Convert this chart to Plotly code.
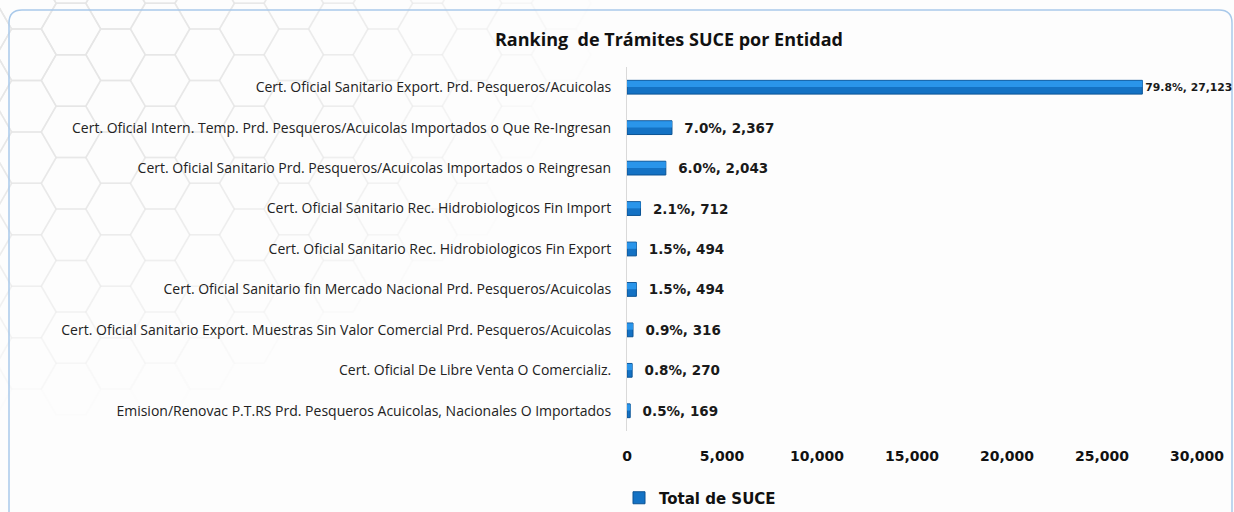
import math
import plotly.graph_objects as go

# ---------------- data ----------------
categories = [
    "Cert. Oficial Sanitario Export. Prd. Pesqueros/Acuicolas",
    "Cert. Oficial Intern. Temp. Prd. Pesqueros/Acuicolas Importados o Que Re-Ingresan",
    "Cert. Oficial Sanitario Prd. Pesqueros/Acuicolas Importados o Reingresan",
    "Cert. Oficial Sanitario Rec. Hidrobiologicos Fin Import",
    "Cert. Oficial Sanitario Rec. Hidrobiologicos Fin Export",
    "Cert. Oficial Sanitario fin Mercado Nacional Prd. Pesqueros/Acuicolas",
    "Cert. Oficial Sanitario Export. Muestras Sin Valor Comercial Prd. Pesqueros/Acuicolas",
    "Cert. Oficial De Libre Venta O Comercializ.",
    "Emision/Renovac P.T.RS Prd. Pesqueros Acuicolas, Nacionales O Importados",
]
values = [27123, 2367, 2043, 712, 494, 494, 316, 270, 169]
percents = [79.8, 7.0, 6.0, 2.1, 1.5, 1.5, 0.9, 0.8, 0.5]
x_ticks = [0, 5000, 10000, 15000, 20000, 25000, 30000]
series_name = "Total de SUCE"
title_text = "Ranking\u00a0 de Trámites SUCE por Entidad"

# ---------------- layout geometry ----------------
W, H = 1234, 512
L, R, T, B = 627, 37, 67, 81
PW, PH = W - L - R, H - T - B


def px(x):
    return (x - L) / PW


def py(y):
    return (H - B - y) / PH


labels = [("" if i == 0 else "  ") + "{:.1f}%, {:,}".format(p, v)
          for i, (p, v) in enumerate(zip(percents, values))]
label_sizes = [10.8] + [13.5] * (len(values) - 1)

fig = go.Figure()
fig.add_trace(go.Bar(
    y=categories, x=values, orientation="h", name=series_name,
    marker=dict(color="#1472c4", line=dict(color="#0b5394", width=1)),
    width=0.34,
    text=labels, textposition="outside", cliponaxis=False,
    constraintext="none",
    textfont=dict(family="DejaVu Sans", size=label_sizes, color="#1a1a1a", weight="bold"),
    hoverinfo="x+y",
))
# lighter upper half (bevel look)
fig.add_trace(go.Bar(
    y=categories, x=values, orientation="h", showlegend=False,
    marker=dict(color="#2a95ea", line=dict(width=0)),
    width=0.155, offset=-0.16, hoverinfo="skip",
))

# ---------------- background hexagons ----------------
shapes = []
s = 29.7
cx0, cy0 = 71, 29
for i in range(-2, 16):
    for j in range(-2, 12):
        cx = cx0 + i * 1.5 * s
        cy = cy0 + j * math.sqrt(3) * s + (i % 2) * math.sqrt(3) / 2 * s
        r = math.sqrt((max(cx, 0) / 540) ** 2 + (max(cy, 0) / 380) ** 2)
        op = max(0.0, min(1.0, 1.1 - r))
        if op <= 0.03:
            continue
        pts = []
        for k in range(6):
            a = math.radians(60 * k)
            pts.append((px(cx + s * math.cos(a)), py(cy + s * math.sin(a))))
        path = "M " + " L ".join("{:.5f},{:.5f}".format(a, b) for a, b in pts) + " Z"
        shapes.append(dict(type="path", path=path, xref="paper", yref="paper",
                           line=dict(color="#e6e6e6", width=1.5), opacity=op,
                           layer="below"))

# rounded blue frame
x1, y1, x2, y2, rr = 9, 10, 1232, 516, 13
frame = (
    f"M {px(x1)},{py(y1 + rr)} "
    f"Q {px(x1)},{py(y1)} {px(x1 + rr)},{py(y1)} "
    f"L {px(x2 - rr)},{py(y1)} "
    f"Q {px(x2)},{py(y1)} {px(x2)},{py(y1 + rr)} "
    f"L {px(x2)},{py(y2)} L {px(x1)},{py(y2)} Z"
)
shapes.append(dict(type="path", path=frame, xref="paper", yref="paper",
                   line=dict(color="#a9c9ea", width=1.5), layer="below"))

fig.update_layout(
    width=W, height=H,
    margin=dict(l=L, r=R, t=T, b=B, autoexpand=False),
    paper_bgcolor="#fdfdfd", plot_bgcolor="rgba(0,0,0,0)",
    barmode="overlay",
    shapes=shapes,
    title=dict(text="<b>" + title_text + "</b>", x=669 / W, xref="container",
               xanchor="center", y=1 - 40 / H, yref="container", yanchor="middle",
               font=dict(family="Open Sans", size=18, color="#111111")),
    showlegend=True,
    legend=dict(orientation="h", x=px(700), xanchor="center", y=py(498),
                yanchor="middle", bgcolor="rgba(0,0,0,0)", itemwidth=30,
                font=dict(family="DejaVu Sans", size=15, color="#111111", weight="bold")),
    font=dict(family="Open Sans", color="#222222"),
)
fig.update_xaxes(
    range=[0, 30000], tickvals=x_ticks, tickformat=",d",
    showgrid=False, zeroline=False, showline=False,
    ticks="outside", ticklen=12, tickcolor="rgba(0,0,0,0)",
    tickfont=dict(family="DejaVu Sans", size=14, color="#111111", weight="bold"),
)
fig.update_yaxes(
    categoryorder="array", categoryarray=categories, autorange="reversed",
    showgrid=False, zeroline=False, showline=True, linecolor="#d9d9d9", linewidth=1,
    ticks="outside", ticklen=12, tickcolor="rgba(0,0,0,0)",
    tickfont=dict(family="Open Sans", size=14, color="#222222"),
)

fig.write_html(
    "out.html",
    config={"displayModeBar": False},
    post_script="document.body.style.margin='0';document.body.style.overflow='hidden';",
)
